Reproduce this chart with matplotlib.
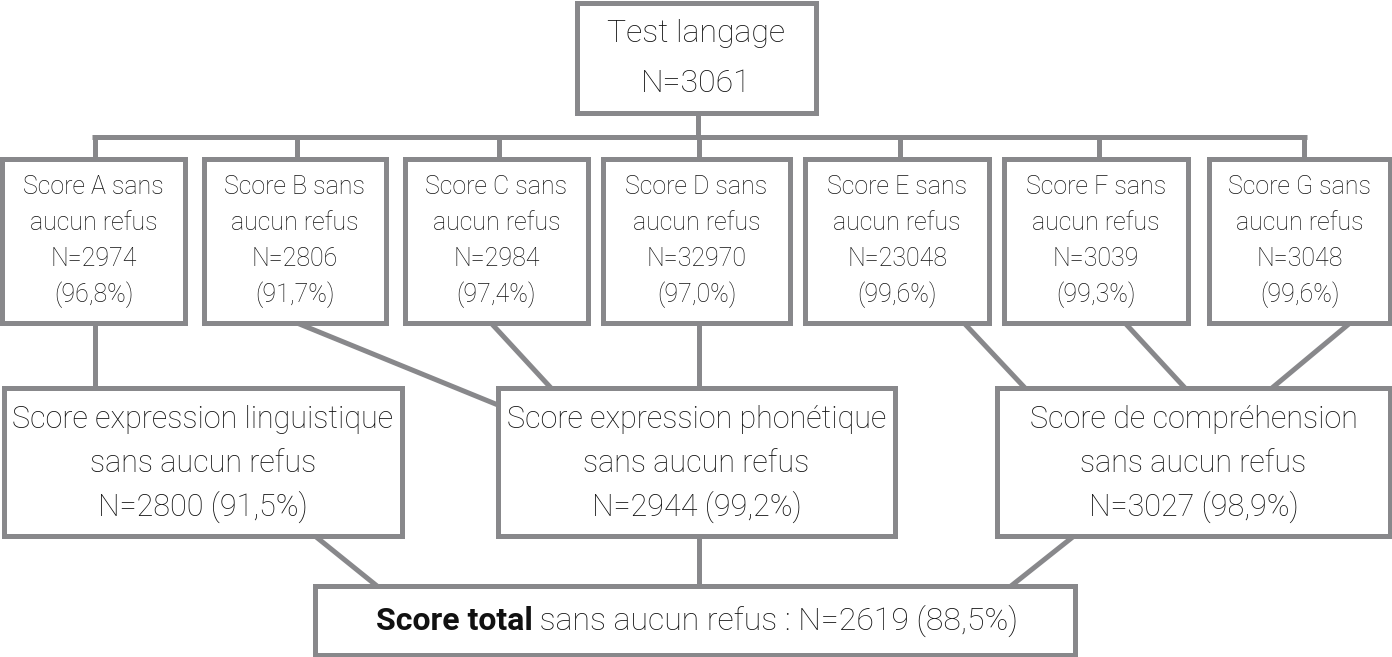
import matplotlib.pyplot as plt
from matplotlib.patches import Rectangle

plt.rcParams['font.family'] = ['Roboto', 'DejaVu Sans']
plt.rcParams['font.weight'] = 'light'

# data
top_label = 'Test langage'
top_n = 3061
score_letters = ['A', 'B', 'C', 'D', 'E', 'F', 'G']
score_n = [2974, 2806, 2984, 32970, 23048, 3039, 3048]
score_pct = ['96,8', '91,7', '97,4', '97,0', '99,6', '99,3', '99,6']
mid_titles = ['Score expression linguistique', 'Score expression phonétique',
              'Score de compréhension']
mid_n = [2800, 2944, 3027]
mid_pct = ['91,5', '99,2', '98,9']
total_n = 2619
total_pct = '88,5'

GREY = '#88888b'
TXT = '#111111'
LW = 3.6

fig = plt.figure(figsize=(13.92, 6.57), dpi=100)
ax = fig.add_axes([0, 0, 1, 1])
ax.set_xlim(0, 1392)
ax.set_ylim(657, 0)
ax.axis('off')


def box(x0, y0, x1, y1):
    ax.add_patch(Rectangle((x0, y0), x1 - x0, y1 - y0, facecolor='white',
                           edgecolor=GREY, lw=LW, zorder=3))


def line(p, q):
    ax.plot([p[0], q[0]], [p[1], q[1]], color=GREY, lw=LW, zorder=2,
            solid_capstyle='butt')


# top box
box(577, 3, 816, 113)
ax.text(696, 34, top_label, ha='center', va='center', fontsize=23, color=TXT, zorder=4)
ax.text(696, 84, f'N={top_n}', ha='center', va='center', fontsize=23, color=TXT, zorder=4)

# connectors from top
small_x = [(2, 185), (204, 386), (405, 588), (603, 790), (805, 989),
           (1004, 1188), (1209, 1390)]
drops = [95, 297, 499, 699, 900, 1099, 1304]
line((698, 113), (698, 137))
line((92, 137), (1307, 137))
for d in drops:
    line((d, 137), (d, 160))

# small boxes
for (x0, x1), letter, n, pct in zip(small_x, score_letters, score_n, score_pct):
    box(x0, 159, x1, 323)
    cx = (x0 + x1) / 2
    lines = [f'Score {letter} sans', 'aucun refus', f'N={n}', f'({pct}%)']
    for k, t in enumerate(lines):
        ax.text(cx, 187 + 36 * k, t, ha='center', va='center', fontsize=18,
                color=TXT, zorder=4)

# links small -> mid
links = [((95, 323), (95, 388)), ((297, 323), (498, 405)),
         ((491, 323), (551, 388)), ((699, 323), (699, 388)),
         ((964, 323), (1025, 388)), ((1125, 323), (1185, 388)),
         ((1350, 323), (1272, 388))]
for p, q in links:
    line(p, q)

# mid boxes
mid_x = [(4, 402), (498, 895), (997, 1390)]
for (x0, x1), title, n, pct in zip(mid_x, mid_titles, mid_n, mid_pct):
    box(x0, 388, x1, 536)
    cx = (x0 + x1) / 2
    for k, t in enumerate([title, 'sans aucun refus', f'N={n} ({pct}%)']):
        ax.text(cx, 419 + 44 * k, t, ha='center', va='center', fontsize=22,
                color=TXT, zorder=4)

# links mid -> total
for p, q in [((315, 536), (377, 586)), ((699, 536), (699, 586)),
             ((1074, 536), (1011, 586))]:
    line(p, q)

# total box
box(315, 586, 1075, 655)
bold = ax.text(0, 621, 'Score total', ha='left', va='center', fontsize=23,
               fontweight='bold', color=TXT, zorder=4)
rest = ax.text(0, 621, f' sans aucun refus : N={total_n} ({total_pct}%)', ha='left',
               va='center', fontsize=23, color=TXT, zorder=4)
r = fig.canvas.get_renderer()
wb = bold.get_window_extent(r).width
wr = rest.get_window_extent(r).width
start = 697 - (wb + wr) / 2
bold.set_x(start)
rest.set_x(start + wb)

fig.savefig('out.png', dpi=100)
